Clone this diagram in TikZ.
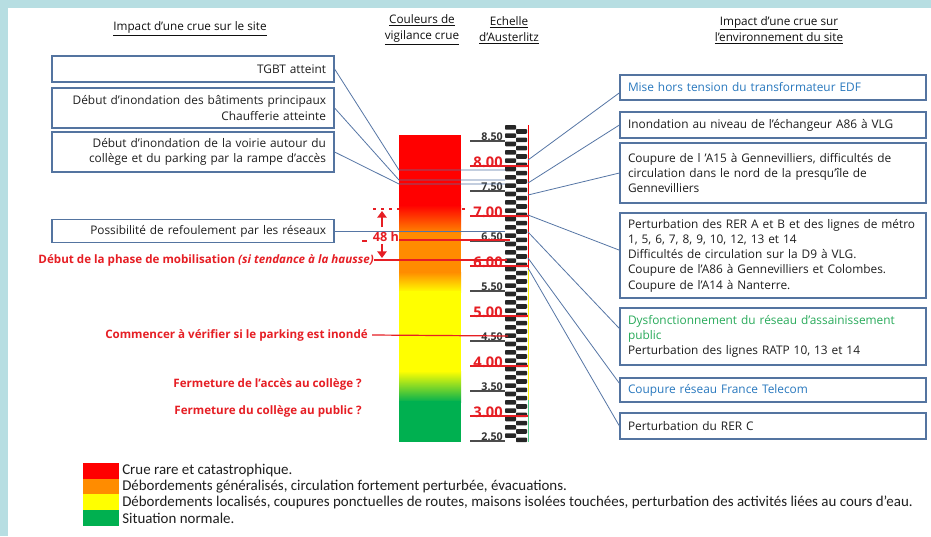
\documentclass[tikz,border=0pt]{standalone}
\usepackage{fontspec}
\setmainfont{Open Sans}
\newfontfamily\legfont{Carlito}
\usetikzlibrary{arrows.meta}

\definecolor{frameblue}{RGB}{183,222,226}
\definecolor{boxblue}{RGB}{84,116,160}
\definecolor{linkblue}{RGB}{86,118,165}
\definecolor{alertred}{RGB}{230,30,36}
\definecolor{edfblue}{RGB}{40,120,190}
\definecolor{sanigreen}{RGB}{40,170,90}
\definecolor{vigred}{RGB}{255,0,0}
\definecolor{vigorange}{RGB}{255,140,0}
\definecolor{vigyellow}{RGB}{255,255,0}
\definecolor{viggreen}{RGB}{0,176,80}
\definecolor{headgray}{RGB}{15,15,15}
\definecolor{textgray}{RGB}{30,30,30}

\newcommand\boxfont{\fontsize{8.9}{11.4}\selectfont}
\newcommand\alertfont{\fontsize{8.7}{10}\selectfont\bfseries}
\newcommand\headfont{\fontsize{8.8}{12}\selectfont}

\tikzset{
  sitebox/.style={draw=boxblue, line width=0.9pt, inner xsep=6pt, inner ysep=0pt,
    text width=199.5pt, align=right, font=\boxfont, text=textgray},
  envbox/.style={draw=boxblue, line width=0.9pt, inner xsep=6pt, inner ysep=0pt,
    text width=217.5pt, align=left, font=\boxfont, text=textgray},
  link/.style={draw=linkblue, line width=0.6pt},
  alert/.style={text=alertred, font=\alertfont, inner sep=0pt},
  redline/.style={draw=alertred, line width=0.9pt},
  head/.style={text=headgray, font=\headfont, align=center},
  halfmark/.style={font=\fontsize{8}{9}\selectfont\bfseries, text=black!80, inner sep=0pt},
  fullmark/.style={font=\fontsize{11}{12}\selectfont\bfseries, text=alertred, inner sep=0pt},
  legsq/.style={minimum width=27pt, minimum height=12pt, inner sep=0pt},
  legtext/.style={font=\legfont\fontsize{11.2}{12}\selectfont, text=textgray, inner sep=0pt, anchor=west},
  upshot/.style={draw=alertred, line width=2pt, -{Triangle[width=7pt,length=5pt]}}
}

\begin{document}
\begin{tikzpicture}[x=0.75pt,y=-0.75pt]
\useasboundingbox (0,0) rectangle (931,536);
\fill[frameblue] (0,0) rectangle (931,536);
\fill[white] (8,8) rectangle (931,536);

% titres
\node[head] (hsite) at (190,29) {\underline{Impact d’une crue sur le site}};
\node[head] (hcoul) at (422,30) {\underline{Couleurs de}\\\underline{vigilance crue}};
\node[head] (hech) at (509,30) {\underline{Echelle}\\\underline{d’Austerlitz}};
\node[head] (henv) at (779,30) {\underline{Impact d’une crue sur}\\\underline{l’environnement du site}};

% impacts sur le site
\node[sitebox, minimum height=19.5pt] (tgbt) at (193,69) {TGBT atteint};
\node[sitebox, minimum height=30pt] (batim) at (193,108) {Début d’inondation des bâtiments principaux\\Chaufferie atteinte};
\node[sitebox, minimum height=30pt] (voirie) at (193,152) {Début d’inondation de la voirie autour du\\collège et du parking par la rampe d’accès};
\node[sitebox, minimum height=17.25pt] (refoul) at (193,231) {Possibilité de refoulement par les réseaux};

% consignes
\node[alert, anchor=east] (mobil) at (374,260) {Début de la phase de mobilisation \textit{(si tendance à la hausse)}};
\node[alert, anchor=east] (parking) at (368,335) {Commencer à vérifier si le parking est inondé};
\node[alert, anchor=east] (acces) at (362,384) {Fermeture de l’accès au collège ?};
\node[alert, anchor=east] (public) at (362,411) {Fermeture du collège au public ?};

% couleurs de vigilance
\fill[vigred] (399,135) rectangle (461,206);
\shade[top color=vigred, bottom color=vigorange] (399,205) rectangle (461,234);
\fill[vigorange] (399,233) rectangle (461,273);
\shade[top color=vigorange, bottom color=vigyellow] (399,272) rectangle (461,292);
\fill[vigyellow] (399,291) rectangle (461,372);
\shade[top color=vigyellow, bottom color=viggreen] (399,371) rectangle (461,402);
\fill[viggreen] (399,401) rectangle (461,442);

% echelle
\foreach \i in {0,2,...,74}
  \fill[black!85, rounded corners=0.6pt] (505,{125+\i*25/6}) rectangle ++(11,4.6);
\foreach \i in {1,3,...,75}
  \fill[black!85, rounded corners=0.6pt] (516,{125+\i*25/6}) rectangle ++(11,4.6);
\draw[vigred, line width=0.6pt] (528,125) -- (528,270);
\draw[vigyellow!90!orange, line width=0.6pt] (528,270) -- (528,400);
\draw[viggreen!70, line width=0.6pt] (528,400) -- (528,442);
\foreach \v/\y in {8.50/137,7.50/187,6.50/237,5.50/287,4.50/337,3.50/387,2.50/437}
{\draw[black!70, line width=0.9pt] (470,\y+4) -- (505,\y+4);
 \node[halfmark, anchor=east] (h\y) at (503,\y) {\v};}
\foreach \v/\y in {8.00/162,7.00/212,6.00/262,5.00/312,4.00/362,3.00/412}
{\draw[redline] (470,\y+4) -- (528,\y+4);
 \node[fullmark, anchor=east] (f\y) at (503,\y) {\v};}

% liens site -> echelle
\coordinate (b1) at (399,170); \coordinate (s1) at (505,170);
\coordinate (b2) at (399,180); \coordinate (s2) at (505,180);
\coordinate (b3) at (399,184); \coordinate (s3) at (505,184);
\coordinate (s4) at (505,231);
\draw[link] (tgbt.east) -- (b1) -- (s1);
\draw[link] (batim.east) -- (b2) -- (s2);
\draw[link] (voirie.east) -- (b3) -- (s3);
\draw[link] (refoul.east) -- (s4);
\coordinate (m1) at (507,260);
\coordinate (p1) at (508,336);
\draw[redline] (mobil.east) -- (m1);
\draw[redline] ([xshift=3pt]parking.east) -- (p1);

% 48 h
\draw[alertred, line width=0.9pt, dash pattern=on 2.5pt off 3.5pt] (373,209) -- (399,209);
\draw[alertred, line width=0.9pt, dash pattern=on 2.5pt off 3.5pt] (462,209) -- (470,209);
\draw[redline] (399,240) -- (510,240);
\draw[upshot] (382,227) -- (382,211);
\draw[upshot] (382,244) -- (382,258);
\draw[alertred, line width=0.8pt] (362,241) -- (367,241);
\node[alert, font=\fontsize{9.5}{10}\selectfont\bfseries] (delai) at (386,237) {48 h};

% impacts sur l'environnement
\node[envbox, minimum height=18.75pt, text=edfblue] (edf) at (773,87.5) {Mise hors tension du transformateur EDF};
\node[envbox, minimum height=19.5pt] (echang) at (773,125) {Inondation au niveau de l’échangeur A86 à VLG};
\node[envbox, minimum height=45pt] (a15) at (773,173) {Coupure de l ’A15 à Gennevilliers, difficultés de\\circulation dans le nord de la presqu’île de\\Gennevilliers};
\node[envbox, minimum height=63.75pt] (rer) at (773,255.5) {Perturbation des RER A et B et des lignes de métro\\1, 5, 6, 7, 8, 9, 10, 12, 13 et 14\\Difficultés de circulation sur la D9 à VLG.\\Coupure de l’A86 à Gennevilliers et Colombes.\\Coupure de l’A14 à Nanterre.};
\node[envbox, minimum height=42.75pt] (assain) at (773,336.5) {{\color{sanigreen}Dysfonctionnement du réseau d’assainissement}\\{\color{sanigreen}public}\\Perturbation des lignes RATP 10, 13 et 14};
\node[envbox, minimum height=18pt, text=edfblue] (telecom) at (773,390) {Coupure réseau France Telecom};
\node[envbox, minimum height=19.5pt] (rerc) at (773,426) {Perturbation du RER C};

% liens echelle -> environnement
\coordinate (e1) at (528,160);
\coordinate (e2) at (528,183);
\coordinate (e3) at (528,195);
\coordinate (e4) at (528,215);
\coordinate (e5) at (528,232);
\coordinate (e6) at (528,258);
\coordinate (e7) at (528,268);
\draw[link] (e1) -- ([yshift=-4pt]edf.west);
\draw[link] (e2) -- (echang.west);
\draw[link] (e3) -- (a15.west);
\draw[link] (e4) -- ([yshift=4pt]rer.west);
\draw[link] (e5) -- ([yshift=6pt]assain.west);
\draw[link] (e6) -- ([yshift=5pt]telecom.west);
\draw[link] (e7) -- (rerc.west);

% legende
\node[legsq, fill=vigred] (lr) at (101,471) {};
\node[legsq, fill=vigorange] (lo) at (101,486.5) {};
\node[legsq, fill=vigyellow] (ly) at (101,502) {};
\node[legsq, fill=viggreen] (lg) at (101,518) {};
\node[legtext] (tr) at (122,471) {Crue rare et catastrophique.};
\node[legtext] (to) at (122,486.5) {Débordements généralisés, circulation fortement perturbée, évacuations.};
\node[legtext] (ty) at (122,502) {Débordements localisés, coupures ponctuelles de routes, maisons isolées touchées, perturbation des activités liées au cours d’eau.};
\node[legtext] (tg) at (122,518) {Situation normale.};
\end{tikzpicture}
\end{document}
